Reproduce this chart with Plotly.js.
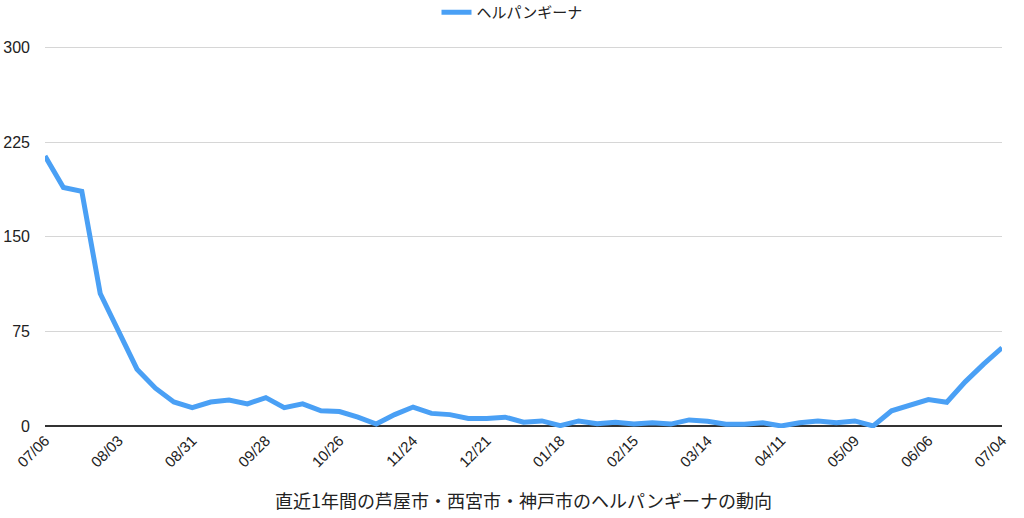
<!DOCTYPE html>
<html>
<head>
<meta charset="utf-8">
<script src="https://cdn.plot.ly/plotly-3.0.1.min.js"></script>
<style>html,body{margin:0;padding:0;background:#fff;}#chart{width:1024px;height:518px;}</style>
</head>
<body>
<div id="chart"></div>
<script>
const seriesName = "ヘルパンギーナ";
const categories = [
  "07/06","07/13","07/20","07/27","08/03","08/10","08/17","08/24","08/31","09/07",
  "09/14","09/21","09/28","10/05","10/12","10/19","10/26","11/02","11/09","11/16",
  "11/24","11/30","12/07","12/14","12/21","12/28","01/04","01/11","01/18","01/25",
  "02/01","02/08","02/15","02/22","02/29","03/07","03/14","03/21","03/28","04/04",
  "04/11","04/18","04/25","05/02","05/09","05/16","05/23","05/30","06/06","06/13",
  "06/20","06/27","07/04"
];
const values = [
  214,189,186,105,75,45,30,19,14.5,19,
  20.5,17.5,22.5,14.5,17.5,12,11.4,7,1.5,9,
  15,10,9,6,6,7,3,4,0.3,4,
  1.8,3,1.5,2.5,1.5,4.8,3.7,1.3,1.3,2.6,
  0,2.6,4,2.6,4,0,12,16.6,21,18.8,
  35,49,62
];
const tickLabels = ["07/06","08/03","08/31","09/28","10/26","11/24","12/21","01/18","02/15","03/14","04/11","05/09","06/06","07/04"];
const yTicks = [0,75,150,225,300];
const xTitle = "直近1年間の芦屋市・西宮市・神戸市のヘルパンギーナの動向";

const font = "Helvetica, Arial, 'Noto Sans CJK JP', sans-serif";
const plotH = 518 - 45 - 90;
Plotly.newPlot("chart", [{
  type: "scatter", mode: "lines", name: seriesName,
  x: categories, y: values,
  line: {color: "#4aa0f5", width: 5}
}], {
  width: 1024, height: 518,
  margin: {l: 45, r: 22, t: 45, b: 90, autoexpand: false},
  paper_bgcolor: "#fff", plot_bgcolor: "#fff",
  font: {family: font, color: "#222", size: 13},
  showlegend: true,
  legend: {orientation: "h", xref: "container", x: 0.5, xanchor: "center", y: 1 + 49 / plotH, yanchor: "top",
           itemwidth: 30, tracegroupgap: 0,
           font: {family: "'Noto Sans CJK JP', sans-serif", size: 15, color: "#222"}},
  xaxis: {
    type: "category", tickmode: "array", tickvals: tickLabels, ticktext: tickLabels,
    tickangle: -45, showgrid: false, zeroline: false, showline: false, ticks: "",
    range: [0, categories.length - 1],
    tickfont: {size: 15, color: "#222"},
    title: {text: xTitle, font: {family: "'Noto Sans CJK JP', sans-serif", size: 18, color: "#222"}, standoff: 25}
  },
  yaxis: {
    range: [-1.6, 302], tickmode: "array", tickvals: yTicks, ticktext: yTicks.map(String),
    showgrid: true, gridcolor: "#d6d6d6", gridwidth: 1,
    zeroline: true, zerolinecolor: "#333", zerolinewidth: 2,
    showline: false, ticks: "", ticklabelstandoff: 14, tickfont: {size: 16, color: "#222"}
  }
}, {displayModeBar: false, staticPlot: true});
</script>
</body>
</html>
